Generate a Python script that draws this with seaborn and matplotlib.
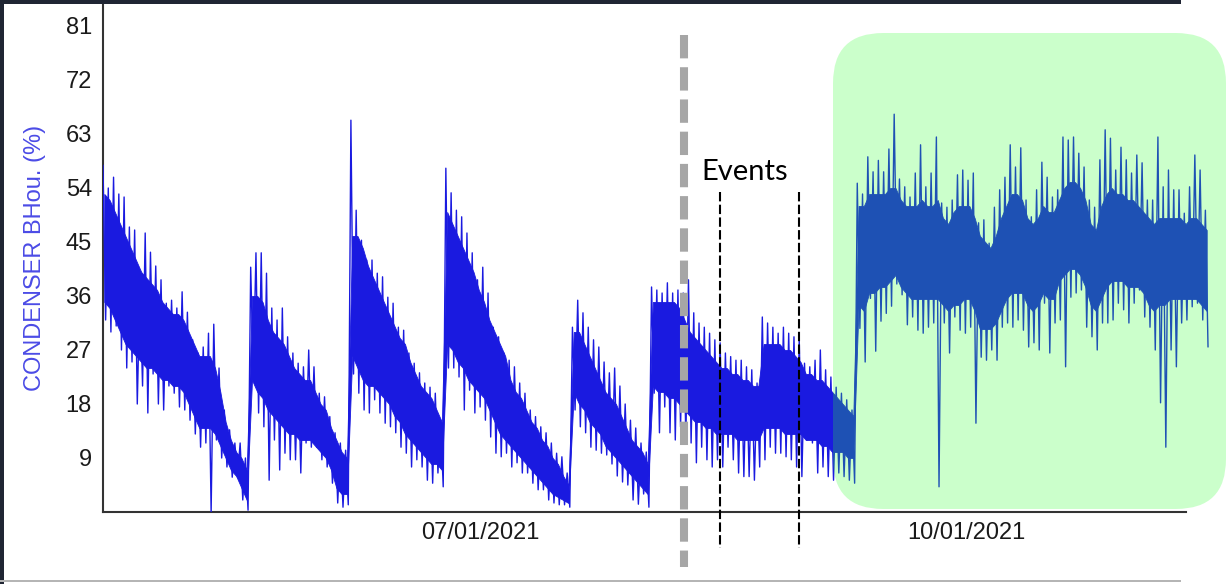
import numpy as np
import pandas as pd
import matplotlib
matplotlib.use("Agg")
import matplotlib.pyplot as plt
import seaborn as sns
from matplotlib.patches import FancyBboxPatch, Rectangle
from matplotlib.transforms import blended_transform_factory

# ---------------- data ----------------
series_start = "2021-04-20 09:00"

# daily spike maxima / minima
daily_high = [
    # cycle 1
    57.8, 54, 55.8, 53, 52.5, 47.5, 47, 37.5, 46.5, 43.3, 41, 38.7, 34.8, 35.3,
    34, 36.7, 33.3, 28.7, 26.5, 27.5, 29.8, 31.3, 24, 17, 13.7, 11.5, 11.5, 9,
    # cycle 2
    40.8, 43.2, 43.2, 39.8, 34, 32, 34, 29.2, 26.5, 24.8, 24.2, 27, 24.2, 19.8,
    19.2, 15.9, 13.2, 11.5, 10.3,
    # cycle 3
    65.3, 50.3, 45.3, 42, 42, 39.8, 39.2, 35.8, 34.8, 30.8, 30.3, 26.5, 24.8,
    23.2, 21.5, 20.8, 19.8, 15.3,
    # cycle 4
    57.3, 53.2, 50.3, 49.2, 46.5, 43.2, 38.7, 40.8, 36.5, 30.8, 29.2, 26.5,
    25.3, 24.2, 21.5, 19.8, 17, 15.9, 14.2, 13.2, 11.5, 9.8, 9.2, 6.5,
    # cycle 5
    30.8, 35.3, 33.2, 30.8, 28.7, 27.5, 25, 23.2, 24, 21, 18, 15.3, 14, 11.5, 10,
    # cycle 6 (events)
    37.5, 37, 36.5, 38.2, 36.5, 37, 36.5, 38.7, 33.2, 31.5, 30.8, 29.8, 28.7,
    28.2, 26.5, 25.9, 25.3, 25.3, 24.2, 23.7, 21.5, 32.5, 31.5, 30.8, 29.8,
    30.8, 29.8, 29.2, 28.7, 24.8, 24.2, 25.3, 27, 23.7, 22.5, 20.8, 19.8, 18.7, 17,
    # after change
    54.8, 53, 59.2, 56.7, 58.6, 56.7, 60.5, 66.3, 55.5, 54.2,
    52.5, 56.5, 61.2, 54.2, 56.5, 62.5, 51.5, 50.8, 52, 56.2,
    57, 55.3, 56.5, 48.2, 48.7, 44.8, 50.8, 53.7, 55.8, 61.2,
    57.5, 60.7, 52, 49.2, 53.7, 58.3, 55.8, 52.5, 53.7, 62.5,
    62, 62.5, 59.8, 57.5, 52, 50.8, 58.7, 63.7, 62.3, 57,
    60.8, 58.7, 56.5, 59.5, 58.2, 52, 52, 62.5, 54.2, 57,
    53.7, 53.7, 49.8, 54.2, 59.5, 57, 50.3,
]

daily_low = [
    # cycle 1
    32, 30, 31, 27, 24, 25, 18, 21, 16.5, 23, 18, 17, 21, 19.8, 17.5, 17, 15.3,
    13, 10.8, 11.5, 0, 12, 9, 7.5, 5.8, 5.8, 2, 0.3,
    # cycle 2
    23, 16.5, 14.2, 5.3, 12, 7, 9.8, 8.7, 8.7, 6.5, 11.5, 10.8, 10.8, 8.7, 7.5,
    4.8, 1.5, 0.8, 1.2,
    # cycle 3
    23, 19.8, 17, 16.5, 18.7, 16.5, 14.8, 14.2, 13.2, 10.8, 9.8, 7.5, 8.7, 7.5,
    5.3, 4.8, 6.5, 4.2,
    # cycle 4
    24, 24, 22.5, 17, 20.3, 16.5, 17.5, 15.3, 12.5, 9.8, 9.2, 9.8, 7.5, 8.2,
    6.5, 6.5, 4.8, 3.7, 3.7, 2, 1.5, 1.2, 1.2, 0.8,
    # cycle 5
    17, 14.2, 13.2, 10.8, 10.3, 9.8, 9.5, 8, 6, 5, 4.5, 2, 1.3, 3, 0.8,
    # cycle 6 (events)
    19.8, 13.2, 17.5, 13.2, 12, 14.2, 12, 11.5, 8.2, 10.8,
    8.7, 7.5, 8.7, 7.5, 10.8, 8.7, 6.5, 5.9, 5.9, 5.3,
    7.5, 8.7, 10.8, 9.8, 9.8, 9.2, 8.7, 7.5, 5.9, 12,
    11.5, 6.5, 7.5, 5.9, 5.3, 6.5, 5.9, 5.3, 4.8,
    # after change
    30.6, 25, 35.6, 26.8, 31.8, 33.1, 34.3, 38, 36.2, 31.2,
    32.5, 30.3, 29.8, 30.8, 31.5, 4.2, 31.5, 26.5, 32.5, 30.3,
    29.8, 30.8, 14.8, 25.8, 25.3, 27, 25.3, 30.8, 31.5, 30.8,
    32, 30.3, 27.5, 28.2, 27, 34.8, 26.5, 31.5, 32, 24.2,
    35.8, 36.5, 37, 30.8, 29.2, 27, 31.5, 31.5, 32, 34.8,
    33.7, 31.5, 34.8, 37, 32.5, 30.8, 27, 18.2, 10.8, 27,
    24.2, 31.5, 32, 34.2, 34.8, 32, 27.5,
]

# daily upper / lower edge of the solid (dense) core of the trace
core_top = [
    53, 52, 50, 48, 46, 44, 42, 40, 39, 38, 37, 35, 34, 33, 33, 32, 30, 28,
    26, 26, 26, 24, 20, 15, 12, 10, 9, 7,
    36, 36, 35, 32, 30, 29, 28, 26, 24, 23, 22, 22, 20, 18, 17, 14, 12, 10, 9,
    46, 46, 44, 41, 39, 37, 35, 33, 31, 29, 28, 25, 23, 21, 20, 19, 17, 15,
    50, 48, 46, 44, 42, 40, 37, 35, 32, 30, 28, 26, 22, 20, 19, 17, 15, 14,
    12, 11, 9, 8, 6, 4.5,
    30, 30, 28, 26, 24, 22, 20, 19, 18, 16, 14, 12, 11, 10, 8,
    35, 35, 35, 35, 35, 34, 32, 30, 29, 28, 27, 26, 25, 24, 24, 23, 23, 22,
    22, 21, 21, 28, 28, 28, 28, 27, 27, 26, 25, 23, 23, 22, 22, 21, 20, 19,
    18, 17, 16,
    51, 51, 53, 53, 53, 53, 54, 54, 52, 51, 51, 51, 52, 51, 51, 52, 49, 48,
    50, 51, 51, 51, 49, 46, 45, 44, 46, 49, 51, 53, 53, 52, 49, 48, 49, 51,
    50, 50, 52, 54, 55, 55, 54, 52, 48, 47, 51, 53, 54, 53, 53, 52, 52, 51,
    50, 49, 48, 49, 49, 49, 49, 49, 48, 49, 49, 48, 47,
]
core_bottom = [
    35, 34, 32, 30, 28, 27, 26, 25, 24, 24, 23, 22, 22, 21, 21, 20, 18, 16,
    14, 14, 14, 13, 11, 9, 7, 6, 4, 2,
    22, 20, 19, 17, 16, 15, 14, 13, 13, 12, 12, 12, 11, 10, 9, 7, 4, 3, 3,
    26, 24, 22, 21, 21, 20, 19, 18, 16, 15, 13, 12, 11, 10, 9, 8, 8, 7,
    28, 27, 25, 24, 22, 21, 20, 19, 17, 15, 13, 12, 11, 10, 9, 8, 7, 6,
    5, 4, 3, 2.5, 2, 1.5,
    20, 18, 17, 15, 14, 13, 11, 10, 9, 8, 7, 6, 5, 4, 3,
    21, 20, 20, 19, 19, 18, 17, 16, 15, 15, 14, 14, 13, 13, 13, 13, 12, 12,
    12, 12, 12, 14, 14, 14, 14, 13, 13, 13, 13, 12, 12, 12, 11, 11, 10, 10,
    10, 9, 9,
    34.5, 33.5, 36.5, 36.5, 37.5, 37.5, 38.5, 39.5, 37.5, 36.5,
    35.5, 35.5, 35.5, 35.5, 35.5, 35.5, 34.5, 33.5, 34.5, 34.5,
    35.5, 35.5, 33.5, 30.5, 30.5, 30.5, 31.5, 33.5, 35.5, 36.5,
    36.5, 36.5, 34.5, 33.5, 34.5, 36.5, 35.5, 35.5, 38.5, 39.5,
    40.5, 40.5, 39.5, 37.5, 34.5, 33.5, 35.5, 37.5, 38.5, 38.5,
    38.5, 37.5, 37.5, 37.5, 36.5, 34.5, 33.5, 34.5, 34.5, 35.5,
    35.5, 35.5, 35.5, 35.5, 35.5, 34.5, 33.5,
]

y_ticks = [9, 18, 27, 36, 45, 54, 63, 72, 81]
x_tick_dates = ["2021-07-01", "2021-10-01"]
x_tick_labels = ["07/01/2021", "10/01/2021"]
x_limits = ["2021-04-20 09:00", "2021-11-16 06:00"]
x_axis_end = "2021-11-11 17:00"
baseline_date = "2021-08-08 11:30"
event_dates = ["2021-08-15 08:00", "2021-08-30 09:00"]
event_label = "Events"
event_label_pos = ("2021-08-20 00:00", 56.7)
y_label = "CONDENSER BHou. (%)"

# ---------------- build long-form frame ----------------
days = pd.date_range(series_start, periods=len(daily_high), freq="D")
n = len(days)
times = np.empty(2 * n, dtype="datetime64[ns]")
times[0::2] = days.values
times[1::2] = (days + pd.Timedelta(hours=12)).values
vals = np.empty(2 * n)
vals[0::2] = daily_high
vals[1::2] = daily_low
df = pd.DataFrame({"time": times, "value": vals})
core = pd.DataFrame({"time": days + pd.Timedelta(hours=6),
                     "top": core_top, "bottom": core_bottom})

# ---------------- figure ----------------
sns.set_style("white")
plt.rcParams["font.family"] = ["Liberation Sans", "DejaVu Sans"]

W, H = 1227, 584
line_color = "#1a1ae0"
fig = plt.figure(figsize=(W / 100, H / 100), dpi=100)
fig.patch.set_facecolor("white")
ax = fig.add_axes([103 / W, (H - 512) / H, (1210 - 103) / W, (512 - 4) / H])
ax.set_facecolor("none")

ax.fill_between(core["time"], core["bottom"], core["top"], color=line_color,
                lw=0.6, edgecolor=line_color, zorder=2)
sns.lineplot(data=df, x="time", y="value", estimator=None, sort=False,
             color=line_color, lw=1.0, ax=ax, zorder=3)

ax.set_xlim(pd.Timestamp(x_limits[0]), pd.Timestamp(x_limits[1]))
ax.set_ylim(0, 508 / 6)
ax.set_yticks(y_ticks)
ax.set_xticks(pd.to_datetime(x_tick_dates))
ax.set_xticklabels(x_tick_labels)
ax.set_xlabel("")
ax.set_ylabel(y_label, color="#4b4be6", fontsize=17)
ax.yaxis.set_label_coords(-57 / 1107, 0.5)

for side in ["top", "right"]:
    ax.spines[side].set_visible(False)
for side in ["left", "bottom"]:
    ax.spines[side].set_color("#333333")
    ax.spines[side].set_linewidth(1.5)
ax.spines["bottom"].set_bounds(matplotlib.dates.date2num(pd.Timestamp(x_limits[0])),
                               matplotlib.dates.date2num(pd.Timestamp(x_axis_end)))

ax.tick_params(axis="y", direction="in", length=13, width=1.5, color="#333333",
               labelsize=17, labelcolor="#1a1a1a", pad=8)
ax.tick_params(axis="x", direction="in", length=7, width=1.5, color="#333333",
               labelsize=17, labelcolor="#1a1a1a", pad=7)

# baseline / change marker (grey thick dashed)
trans = blended_transform_factory(ax.transData, fig.transFigure)
bx = pd.Timestamp(baseline_date)
ax.plot([bx, bx], [1 - 35 / H, 1 - 567 / H], transform=trans, color="#a6a6a6",
        lw=5.8, linestyle=(0, (2.9, 1.1)), clip_on=False, zorder=5,
        dash_capstyle="butt")

# event markers (black dashed)
for d in event_dates:
    ex = pd.Timestamp(d)
    ax.plot([ex, ex], [1 - 192 / H, 1 - 548 / H], transform=trans, color="black",
            lw=1.5, linestyle=(0, (4.5, 1.6)), clip_on=False, zorder=6)

ax.text(pd.Timestamp(event_label_pos[0]), event_label_pos[1], event_label,
        ha="center", va="center", fontsize=21, family=["Lato", "DejaVu Sans"],
        color="black", zorder=7)

# green highlight box (semi-transparent overlay)
box = FancyBboxPatch((833, H - 509), 1226 - 833, 509 - 33,
                     boxstyle="round,pad=0,rounding_size=50",
                     transform=None, facecolor=(45 / 255, 1.0, 45 / 255),
                     edgecolor="none", alpha=0.243, zorder=20)
fig.add_artist(box)

# screenshot frame
fig.add_artist(Rectangle((0, 1 - 4 / H), 1181 / W, 4 / H, transform=fig.transFigure,
                         facecolor="#1f2533", edgecolor="none", zorder=30))
fig.add_artist(Rectangle((0, 0), 4 / W, 1, transform=fig.transFigure,
                         facecolor="#1f2533", edgecolor="none", zorder=30))
fig.add_artist(Rectangle((0, 1 - 582 / H), 1181 / W, 2 / H, transform=fig.transFigure,
                         facecolor="#b5b5b5", edgecolor="none", zorder=30))

fig.savefig("out.png", dpi=100)
